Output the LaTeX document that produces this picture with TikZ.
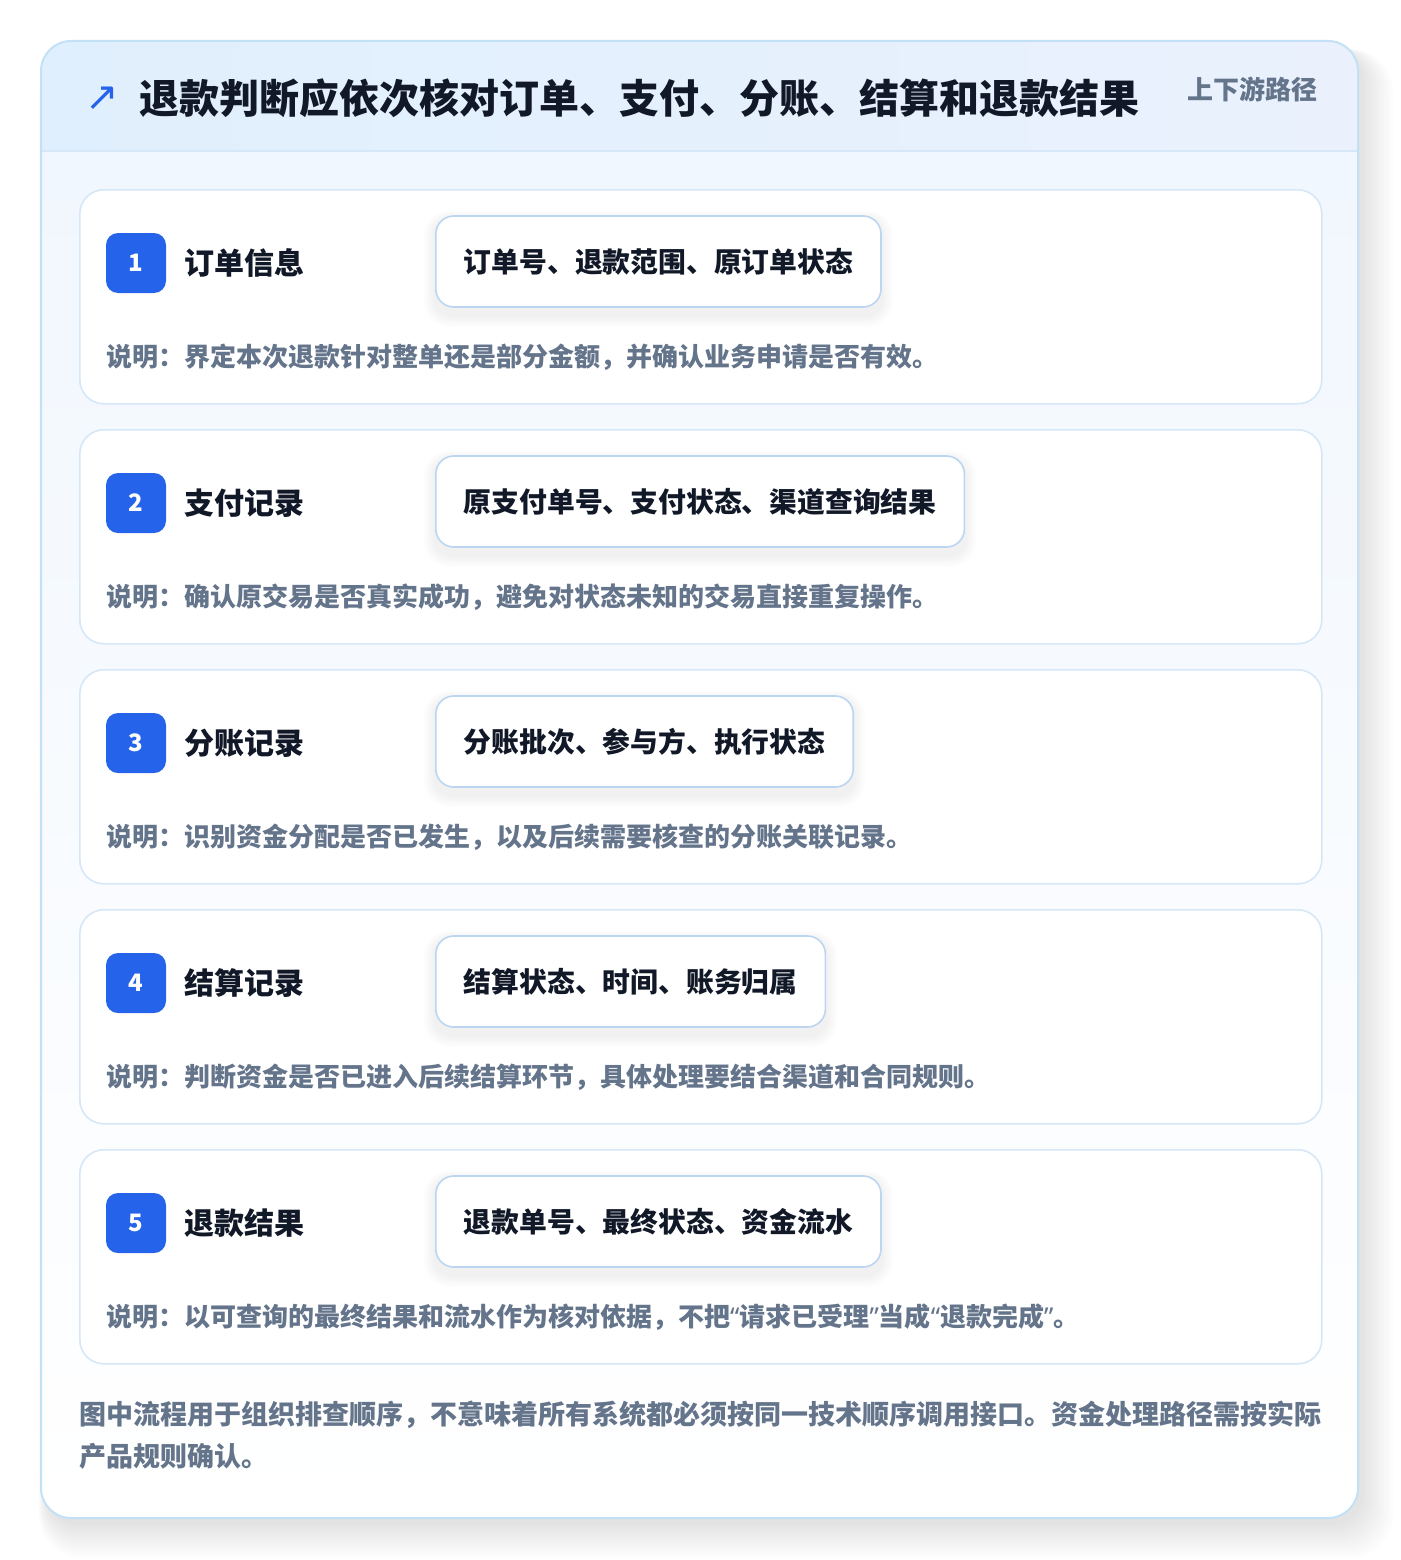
\documentclass[tikz,border=0pt]{standalone}
\usepackage{fontspec}
\setmainfont{Noto Sans CJK SC}
\newfontfamily\symf{DejaVu Sans}
\newfontfamily\latf{Noto Sans}
\usetikzlibrary{calc}
\definecolor{titlec}{HTML}{111827}
\definecolor{grayc}{HTML}{64748B}
\definecolor{bluec}{HTML}{2563EB}
\definecolor{outerb}{HTML}{C3E1F6}
\definecolor{rowb}{HTML}{D6E7F8}
\definecolor{pillb}{HTML}{BCD5F1}
\definecolor{headl}{HTML}{E0EFFD}
\definecolor{headr}{HTML}{EAF1FD}
\definecolor{bodyt}{HTML}{F1F7FE}
\pgfdeclarelayer{cardl}
\pgfdeclarelayer{shadowl}
\pgfsetlayers{cardl,shadowl,main}
\tikzset{
  x=1pt, y=-1pt,
  rowcard/.style={draw=rowb, line width=1.6pt, fill=white, rounded corners=24pt, anchor=north west, minimum width=1242pt, minimum height=214pt, inner sep=0pt},
  badge/.style={fill=bluec, rounded corners=12pt, minimum width=60pt, minimum height=60pt, inner sep=0pt, text=white, font=\bfseries\fontsize{24}{26}\selectfont},
  steplabel/.style={anchor=west, inner sep=0pt, text=titlec, font=\bfseries\fontsize{30}{34}\selectfont},
  pill/.style={anchor=west, draw=pillb, line width=1.6pt, fill=white, rounded corners=18pt, minimum height=91pt, inner xsep=28pt, inner ysep=0pt, text=titlec, font=\bfseries\fontsize{27.8}{30}\selectfont},
  desc/.style={anchor=west, inner sep=0pt, text=grayc, font=\bfseries\fontsize{26}{28}\selectfont},
  softsh/.style={fill=black, opacity=0.008},
}
\newcommand\q[1]{{\latf\bfseries #1}}
\newcommand\steprow[5]{%
  \begin{pgfonlayer}{cardl}
  \node[rowcard] (card#1) at (79,#2) {};
  \end{pgfonlayer}
  \node[badge] (badge#1) at (136,#2+74) {#1};
  \node[steplabel] (label#1) at (184,#2+74) {#3};
  \node[pill] (pill#1) at (435,#2+72.5) {#4};
  \begin{pgfonlayer}{shadowl}
  \foreach \i in {1,...,7}{
    \fill[softsh, rounded corners=18pt+\i pt] ($(pill#1.north west)+(-\i*1.6,4-\i*1.2)$) rectangle ($(pill#1.south east)+(\i*1.6,8+\i*1.6)$);
  }
  \end{pgfonlayer}
  \node[desc] (desc#1) at (106,#2+168) {#5};
}
\begin{document}
\begin{tikzpicture}
\useasboundingbox (0,0) rectangle (1400,1560);
\begin{pgfonlayer}{cardl}
\fill[white] (0,0) rectangle (1400,1560);
% outer card shadow
\foreach \i in {1,...,14}{
  \fill[black, opacity=0.008, rounded corners=30pt+\i pt] (41-\i*0.6+6,41+8) rectangle (1358+\i*2.4+2,1518+\i*2.6+4);
}
% outer card body
\begin{scope}
\clip[rounded corners=30pt] (41,41) rectangle (1358,1518);
\shade[top color=bodyt, bottom color=white] (41,151) rectangle (1358,1518);
\shade[left color=headl, right color=headr] (41,41) rectangle (1358,151);
\draw[rowb, line width=1.5pt] (41,151) -- (1358,151);
\end{scope}
\draw[outerb, line width=2pt, rounded corners=30pt] (41,41) rectangle (1358,1518);
\end{pgfonlayer}
% header
\node[anchor=center, inner sep=0pt, text=bluec, font=\symf\fontsize{40}{42}\selectfont] (arrow) at (102,99) {↗};
\node[anchor=west, inner sep=0pt, text=titlec, font=\bfseries\fontsize{40}{44}\selectfont] (title) at (139,98) {退款判断应依次核对订单、支付、分账、结算和退款结果};
\node[anchor=east, inner sep=0pt, text=grayc, font=\bfseries\fontsize{26}{28}\selectfont] (tag) at (1318,89) {上下游路径};
% rows
\steprow{1}{189}{订单信息}{订单号、退款范围、原订单状态}{说明：界定本次退款针对整单还是部分金额，并确认业务申请是否有效。}
\steprow{2}{429}{支付记录}{原支付单号、支付状态、渠道查询结果}{说明：确认原交易是否真实成功，避免对状态未知的交易直接重复操作。}
\steprow{3}{669}{分账记录}{分账批次、参与方、执行状态}{说明：识别资金分配是否已发生，以及后续需要核查的分账关联记录。}
\steprow{4}{909}{结算记录}{结算状态、时间、账务归属}{说明：判断资金是否已进入后续结算环节，具体处理要结合渠道和合同规则。}
\steprow{5}{1149}{退款结果}{退款单号、最终状态、资金流水}{说明：以可查询的最终结果和流水作为核对依据，不把\q{“}请求已受理\q{”}当成\q{“}退款完成\q{”}。}
% footer
\node[anchor=west, inner sep=0pt, text=grayc, font=\bfseries\fontsize{27}{30}\selectfont] (foot1) at (79,1415) {图中流程用于组织排查顺序，不意味着所有系统都必须按同一技术顺序调用接口。资金处理路径需按实际};
\node[anchor=west, inner sep=0pt, text=grayc, font=\bfseries\fontsize{27}{30}\selectfont] (foot2) at (79,1456) {产品规则确认。};
\end{tikzpicture}
\end{document}
